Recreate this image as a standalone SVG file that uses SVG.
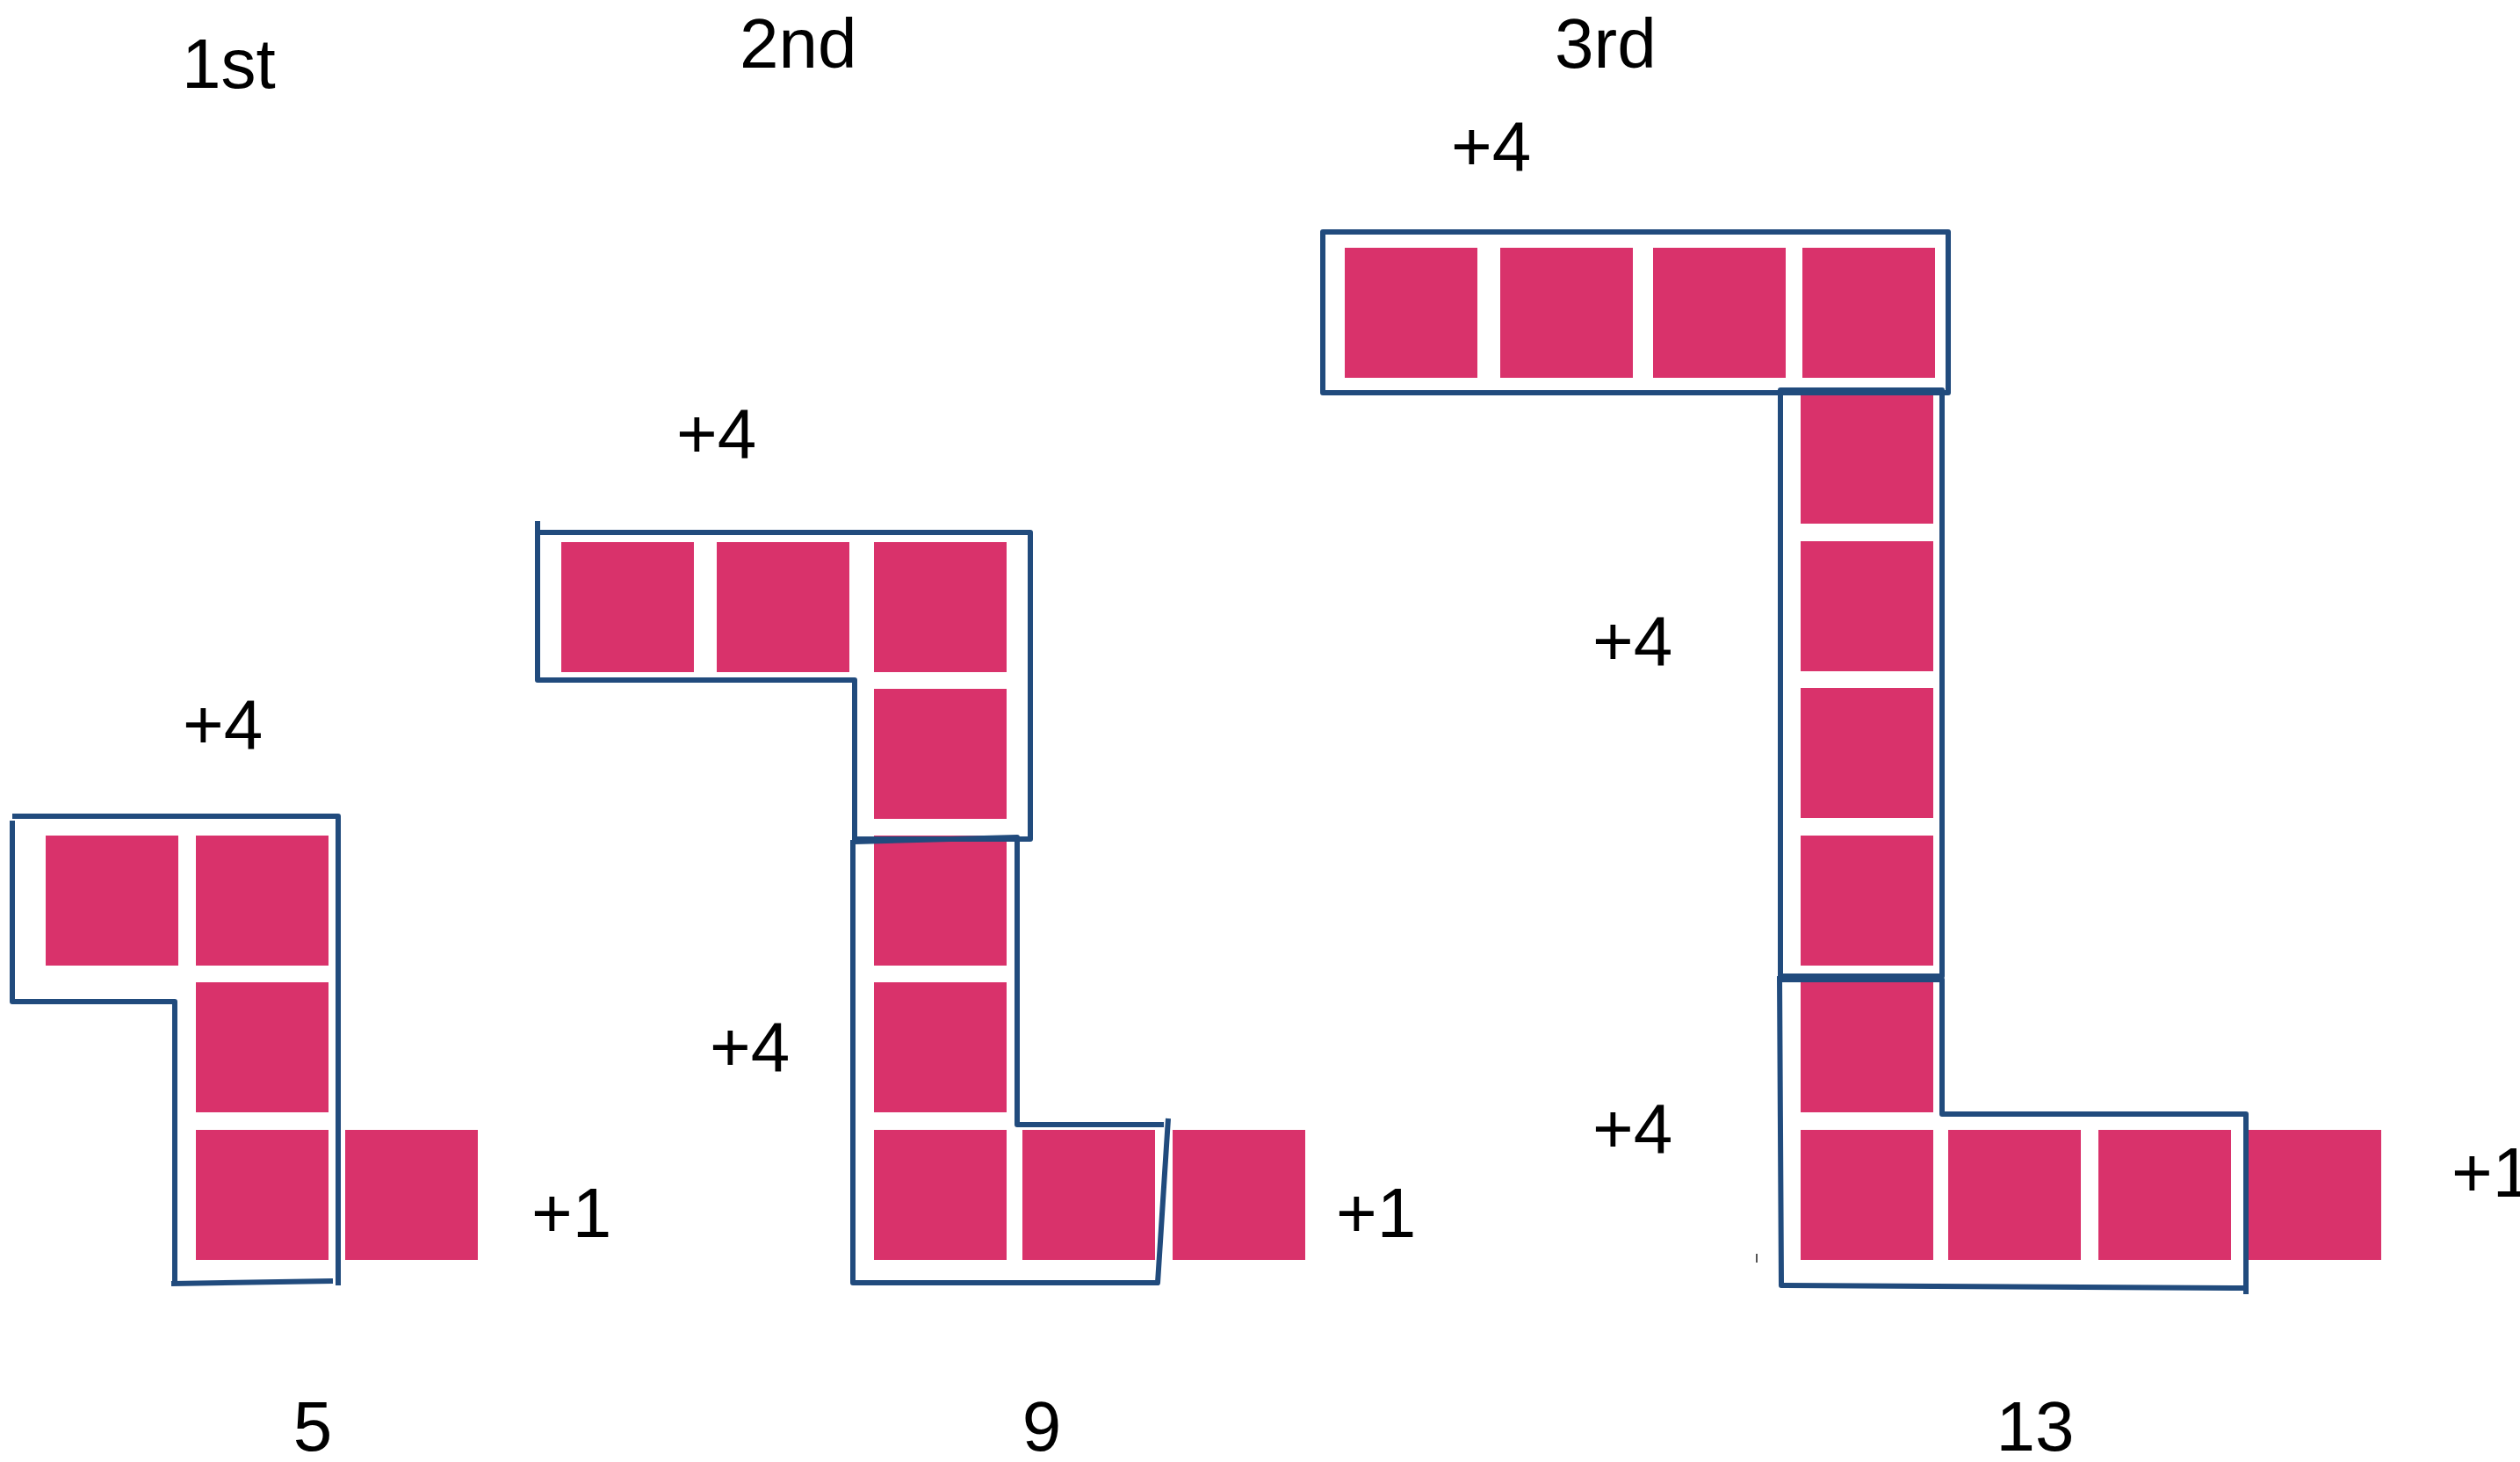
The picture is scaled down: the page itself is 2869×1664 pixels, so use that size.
<svg xmlns="http://www.w3.org/2000/svg" width="2869" height="1664" viewBox="0 0 2869 1664">
<style>
.sq{fill:#D9326B}
.ol{fill:none;stroke:#214B7D;stroke-width:6;stroke-linejoin:round}
.t{font-family:"Liberation Sans",Arial,sans-serif;font-size:80px;fill:#000}
</style>
<rect width="2869" height="1664" fill="#fff"/>
<g id="labels">
<text class="t" x="207" y="100">1st</text>
<text class="t" x="842" y="77">2nd</text>
<text class="t" x="1770" y="77">3rd</text>
<text class="t" x="356" y="1651" text-anchor="middle">5</text>
<text class="t" x="1186" y="1651" text-anchor="middle">9</text>
<text class="t" x="2317" y="1651" text-anchor="middle">13</text>
</g>
<g id="fig1">
<rect class="sq" x="52" y="951" width="151" height="148"/>
<rect class="sq" x="223" y="951" width="151" height="148"/>
<rect class="sq" x="223" y="1118" width="151" height="148"/>
<rect class="sq" x="223" y="1286" width="151" height="148"/>
<rect class="sq" x="393" y="1286" width="151" height="148"/>
<text class="t" x="208" y="852">+4</text>
<text class="t" x="605" y="1408">+1</text>
</g>
<g id="fig2">
<rect class="sq" x="639" y="617" width="151" height="148"/>
<rect class="sq" x="816" y="617" width="151" height="148"/>
<rect class="sq" x="995" y="617" width="151" height="148"/>
<rect class="sq" x="995" y="784" width="151" height="148"/>
<rect class="sq" x="995" y="951" width="151" height="148"/>
<rect class="sq" x="995" y="1118" width="151" height="148"/>
<rect class="sq" x="995" y="1286" width="151" height="148"/>
<rect class="sq" x="1164" y="1286" width="151" height="148"/>
<rect class="sq" x="1335" y="1286" width="151" height="148"/>
<text class="t" x="770" y="521">+4</text>
<text class="t" x="808" y="1219">+4</text>
<text class="t" x="1521" y="1408">+1</text>
</g>
<g id="fig3">
<rect class="sq" x="1531" y="282" width="151" height="148"/>
<rect class="sq" x="1708" y="282" width="151" height="148"/>
<rect class="sq" x="1882" y="282" width="151" height="148"/>
<rect class="sq" x="2052" y="282" width="151" height="148"/>
<rect class="sq" x="2050" y="448" width="151" height="148"/>
<rect class="sq" x="2050" y="616" width="151" height="148"/>
<rect class="sq" x="2050" y="783" width="151" height="148"/>
<rect class="sq" x="2050" y="951" width="151" height="148"/>
<rect class="sq" x="2050" y="1118" width="151" height="148"/>
<rect class="sq" x="2050" y="1286" width="151" height="148"/>
<rect class="sq" x="2218" y="1286" width="151" height="148"/>
<rect class="sq" x="2389" y="1286" width="151" height="148"/>
<rect class="sq" x="2560" y="1286" width="151" height="148"/>
<text class="t" x="1652" y="194">+4</text>
<text class="t" x="1813" y="757">+4</text>
<text class="t" x="1813" y="1312">+4</text>
<text class="t" x="2791" y="1362">+1</text>
</g>
<g id="connectors">
<path class="ol" d="M14,934 V1140 H199 V1458"/>
<path class="ol" d="M14,929 H385 V1463"/>
<path class="ol" d="M195,1461 L379,1458"/>
<path class="ol" d="M612,593 V774 H973 V958"/>
<path class="ol" d="M612,606 H1173 V955 H971"/>
<path class="ol" d="M971,956 V1460 H1318 L1330,1273"/>
<path class="ol" d="M973,958 L1158,953 V1280 H1325"/>
<rect class="ol" x="1506" y="264" width="712" height="183"/>
<rect class="ol" x="2027" y="444" width="184" height="667"/>
<path class="ol" d="M2024,1115 H2211 V1268 H2557 V1473"/>
<path class="ol" d="M2026,1111 L2028,1463 L2557,1466"/>
<line x1="2000" y1="1427" x2="2000" y2="1437" stroke="#555" stroke-width="2"/>
</g>
</svg>
